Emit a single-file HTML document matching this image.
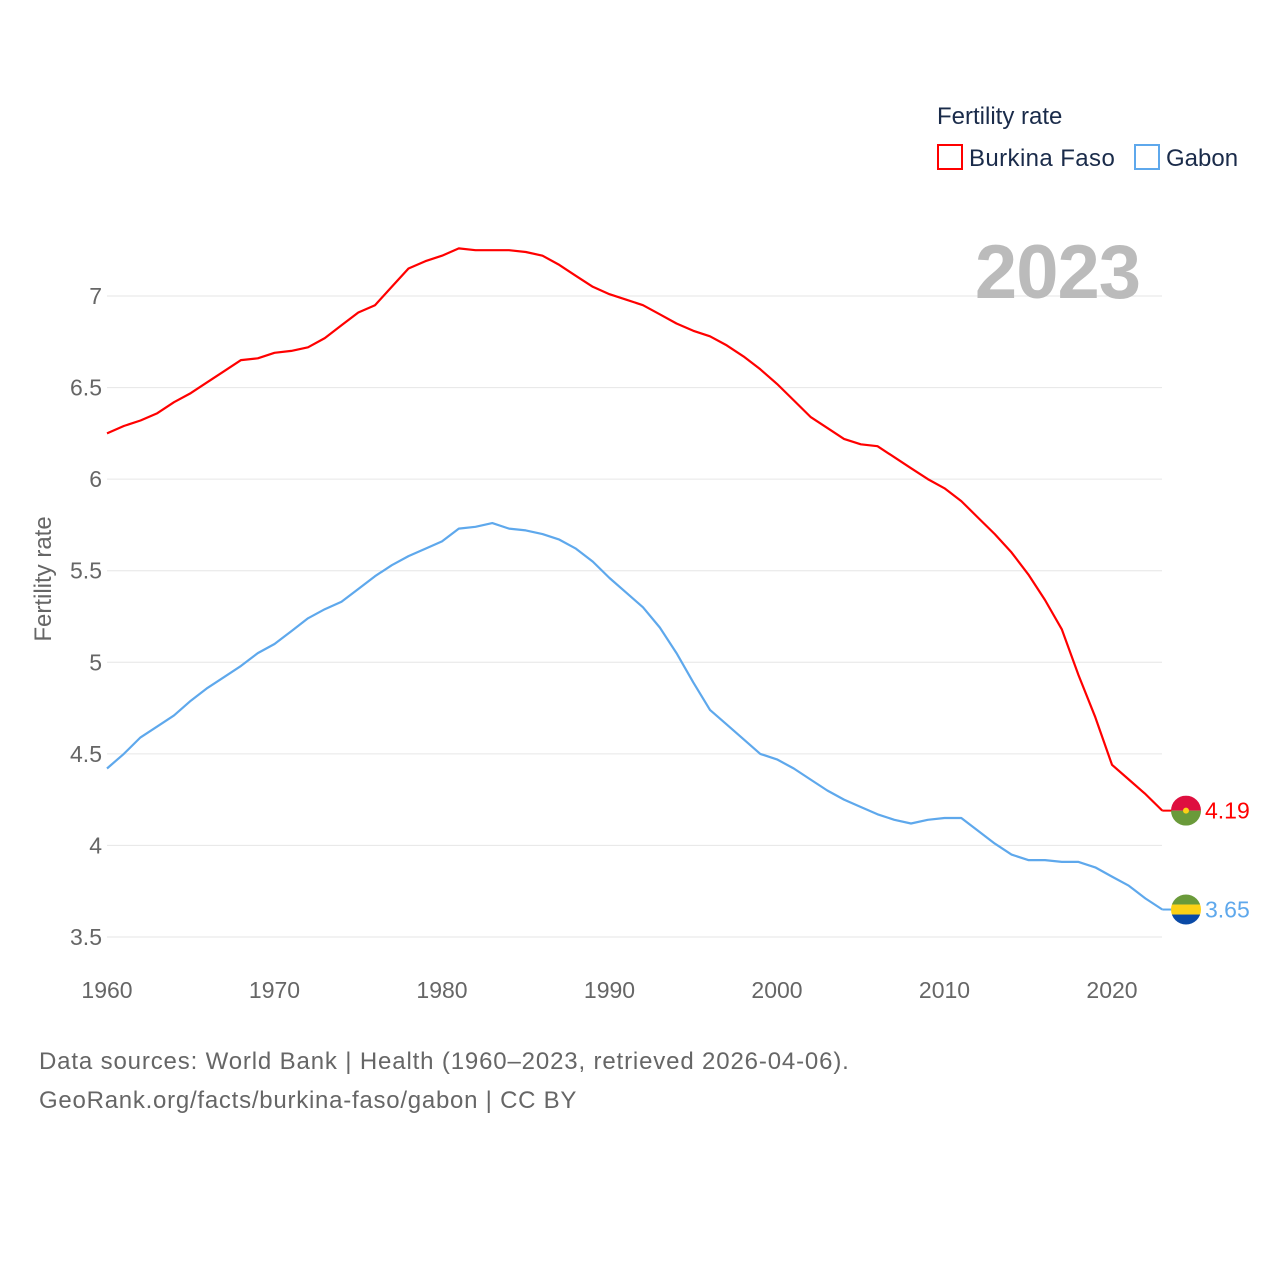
<!DOCTYPE html>
<html><head><meta charset="utf-8">
<style>
body{margin:0;width:1280px;height:1280px;background:#fff;font-family:"Liberation Sans",sans-serif;overflow:hidden}
svg{display:block}
</style></head>
<body>
<svg id="chart" width="1280" height="1280" xmlns="http://www.w3.org/2000/svg">
<g id="grid"></g>
<g id="yticks"></g>
<g id="xticks"></g>
<text transform="translate(51,579) rotate(-90)" text-anchor="middle" font-size="24" fill="#666">Fertility rate</text>
<text x="1140" y="298" text-anchor="end" font-size="76" font-weight="bold" fill="#bbb" letter-spacing="-1">2023</text>
<text x="937" y="124" font-size="24" fill="#1a2b4a">Fertility rate</text>
<g>
<rect x="938" y="145" width="24" height="24" fill="none" stroke="#f00" stroke-width="2"/>
<text x="969" y="166" font-size="24" fill="#1a2b4a" letter-spacing="0.4">Burkina Faso</text></g>
<g>
<rect x="1135" y="145" width="24" height="24" fill="none" stroke="#5ea8ec" stroke-width="2"/>
<text x="1166" y="166" font-size="24" fill="#1a2b4a">Gabon</text></g>
<g id="series"></g>
<g id="ends"></g>
<text x="39" y="1069" font-size="24" fill="#666" letter-spacing="0.85">Data sources: World Bank | Health (1960–2023, retrieved 2026-04-06).</text>
<text x="39" y="1108" font-size="24" fill="#666" letter-spacing="0.75">GeoRank.org/facts/burkina-faso/gabon | CC BY</text>
</svg>
<script>
const years=[];for(let y=1960;y<=2023;y++)years.push(y);
const burkinaFaso=[6.25,6.29,6.32,6.36,6.42,6.47,6.53,6.59,6.65,6.66,6.69,6.70,6.72,6.77,6.84,6.91,6.95,7.05,7.15,7.19,7.22,7.26,7.25,7.25,7.25,7.24,7.22,7.17,7.11,7.05,7.01,6.98,6.95,6.90,6.85,6.81,6.78,6.73,6.67,6.60,6.52,6.43,6.34,6.28,6.22,6.19,6.18,6.12,6.06,6.00,5.95,5.88,5.79,5.70,5.60,5.48,5.34,5.18,4.93,4.70,4.44,4.36,4.28,4.19];
const gabon=[4.42,4.50,4.59,4.65,4.71,4.79,4.86,4.92,4.98,5.05,5.10,5.17,5.24,5.29,5.33,5.40,5.47,5.53,5.58,5.62,5.66,5.73,5.74,5.76,5.73,5.72,5.70,5.67,5.62,5.55,5.46,5.38,5.30,5.19,5.05,4.89,4.74,4.66,4.58,4.50,4.47,4.42,4.36,4.30,4.25,4.21,4.17,4.14,4.12,4.14,4.15,4.15,4.08,4.01,3.95,3.92,3.92,3.91,3.91,3.88,3.83,3.78,3.71,3.65];
const yTicks=[3.5,4,4.5,5,5.5,6,6.5,7];
const xTicks=[1960,1970,1980,1990,2000,2010,2020];
const NS="http://www.w3.org/2000/svg";
const xs=y=>107+(y-1960)*(1005/60);
const ys=v=>296+(7-v)*(641/3.5);
function mk(tag,attrs,parent){const e=document.createElementNS(NS,tag);for(const k in attrs)e.setAttribute(k,attrs[k]);parent.appendChild(e);return e;}
const grid=document.getElementById('grid'),yt=document.getElementById('yticks'),xt=document.getElementById('xticks');
yTicks.forEach(v=>{
 const l=mk('line',{x1:107,x2:1162,y1:ys(v),y2:ys(v),stroke:'#e6e6e6','stroke-width':1},grid);
 
 
 const t=mk('text',{x:102,y:ys(v)+8,'text-anchor':'end','font-size':23,fill:'#666'},yt);
 t.textContent=String(v);
 
 
});
xTicks.forEach(y=>{
 const t=mk('text',{x:xs(y),y:998,'text-anchor':'middle','font-size':23,fill:'#666'},xt);
 t.textContent=String(y);
 
 
});
const ser=document.getElementById('series');
function line(vals,color,name){
 const d=vals.map((v,i)=>(i?'L':'M')+xs(years[i]).toFixed(1)+','+ys(v).toFixed(1)).join('');
 const p=mk('path',{d:d,fill:'none',stroke:color,'stroke-width':2.2,'stroke-linejoin':'round'},ser);
 
 
 const last=vals[vals.length-1];
 mk('line',{x1:xs(years[years.length-1]),x2:1172,y1:ys(last),y2:ys(last),stroke:color,'stroke-width':2},ser);
}
line(burkinaFaso,'#f00','line-burkina-faso');
line(gabon,'#5ea8ec','line-gabon');
const ends=document.getElementById('ends');
const cx=1186;
const by=ys(burkinaFaso[burkinaFaso.length-1]);
const defs=mk('defs',{},ends);
const cp1=mk('clipPath',{id:'c1'},defs);mk('circle',{cx:cx,cy:by,r:15},cp1);
const cp2=mk('clipPath',{id:'c2'},defs);
const gy=ys(gabon[gabon.length-1]);mk('circle',{cx:cx,cy:gy,r:15},cp2);
const bf=mk('g',{'clip-path':'url(#c1)'},ends);


mk('rect',{x:cx-15,y:by-15,width:30,height:15,fill:'#de0f3f'},bf);
mk('rect',{x:cx-15,y:by,width:30,height:15,fill:'#6a9a3a'},bf);
mk('circle',{cx:cx,cy:by,r:3,fill:'#fcd116'},bf);
const gf=mk('g',{'clip-path':'url(#c2)'},ends);


mk('rect',{x:cx-15,y:gy-15,width:30,height:10,fill:'#6a9a3a'},gf);
mk('rect',{x:cx-15,y:gy-5,width:30,height:10,fill:'#fcd116'},gf);
mk('rect',{x:cx-15,y:gy+5,width:30,height:10,fill:'#0a4aa6'},gf);
const l1=mk('text',{x:1205,y:by+8,'font-size':23,fill:'#f00'},ends);
l1.textContent=burkinaFaso[burkinaFaso.length-1].toFixed(2);


const l2=mk('text',{x:1205,y:gy+8,'font-size':23,fill:'#5ea8ec'},ends);
l2.textContent=gabon[gabon.length-1].toFixed(2);


</script>
</body></html>
